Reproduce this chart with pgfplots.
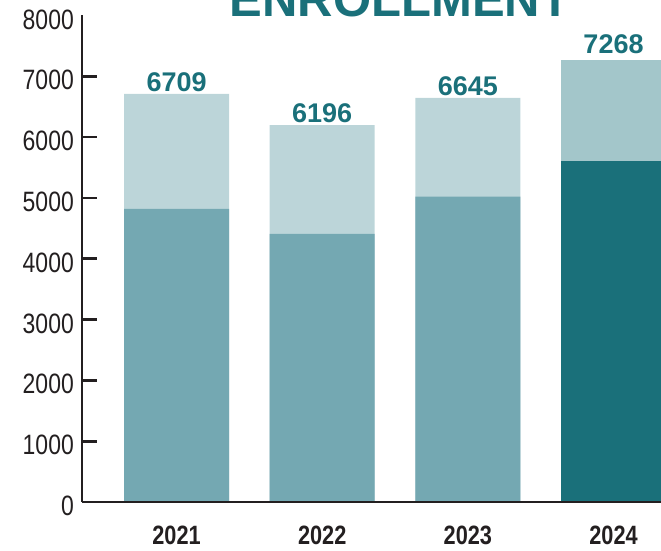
\documentclass[border=0pt]{standalone}
\usepackage{fontspec}
\setmainfont{Liberation Sans}
\newfontfamily\narrow[FakeStretch=0.82]{Liberation Sans}
\usepackage{pgfplots}
\pgfplotsset{compat=1.18}
\definecolor{lightbar}{HTML}{BCD5D9}
\definecolor{midbar}{HTML}{74A8B2}
\definecolor{lighttwo}{HTML}{A3C6CA}
\definecolor{tealdark}{HTML}{1A707A}
\definecolor{ink}{HTML}{231F20}
\begin{document}
\begin{tikzpicture}
\path[use as bounding box, clip] (0,0) rectangle (661pt,551pt);
\node[anchor=base, text=tealdark, font=\fontsize{49}{49}\selectfont\bfseries, inner sep=0pt] at (400pt,534pt) {ENROLLMENT};
\begin{axis}[
  at={(82pt,49pt)}, anchor=south west, scale only axis,
  width=579pt, height=486.6pt,
  xmin=-0.649, xmax=3.326, ymin=0, ymax=8000,
  axis x line=bottom, axis y line=left,
  axis line style={-, line width=2.7pt, draw=ink},
  axis on top,
  xtick={0,1,2,3}, xticklabels={2021,2022,2023,2024},
  ytick={0,1000,...,7000},
  extra y ticks={8000},
  extra y tick style={major tick length=0pt},
  tick align=inside, major tick length=15pt,
  ytick style={line width=2.7pt, draw=ink},
  xtick style={draw=none},
  /pgf/number format/assume math mode=true,
  /pgf/number format/1000 sep={},
  yticklabel style={font=\narrow\fontsize{28}{28}\selectfont, text=ink, inner sep=0pt, anchor=east, xshift=-8pt, yshift=-4pt},
  xticklabel style={font=\narrow\bfseries\fontsize{26.5}{26.5}\selectfont, text=ink, inner sep=0pt, anchor=north, yshift=-24pt},
  nodes near coords,
  nodes near coords style={font=\bfseries\fontsize{27}{27}\selectfont, text=tealdark, inner sep=0pt, anchor=south, /pgf/number format/assume math mode=true, /pgf/number format/1000 sep={}},
]
\addplot[ybar, bar width=105pt, bar shift=0pt, fill=lightbar, draw=none,
  nodes near coords style={yshift=2pt}] coordinates {(0,6709) (1,6196) (2,6645)};
\addplot[ybar, bar width=105pt, bar shift=0pt, fill=lighttwo, draw=none,
  nodes near coords style={yshift=6pt}] coordinates {(3,7268)};
\addplot[ybar, bar width=105pt, bar shift=0pt, fill=midbar, draw=none, nodes near coords={}] coordinates {(0,4820) (1,4410) (2,5020)};
\addplot[ybar, bar width=105pt, bar shift=0pt, fill=tealdark, draw=none, nodes near coords={}] coordinates {(3,5600)};
\end{axis}
\end{tikzpicture}
\end{document}
